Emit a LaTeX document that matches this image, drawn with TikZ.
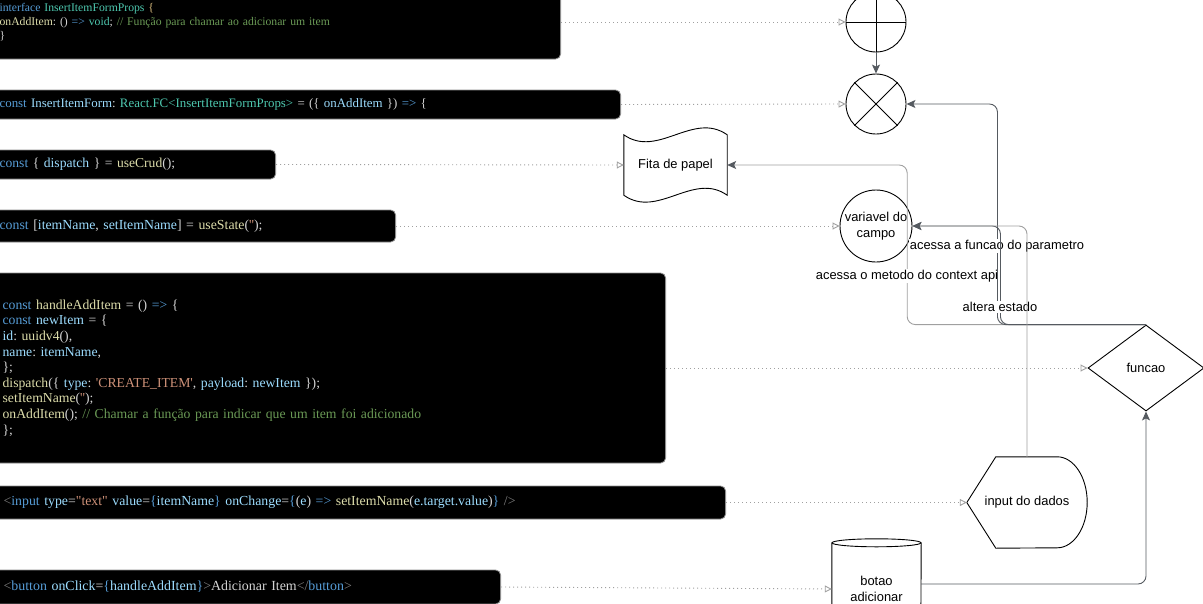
\documentclass[tikz,border=0pt]{standalone}
\usepackage{fontspec}
\setmainfont{Liberation Sans}
\newfontfamily\codefont{Liberation Serif}
\usetikzlibrary{arrows.meta,shapes.geometric,positioning}
\frenchspacing

\definecolor{kwblue}{HTML}{569CD6}
\definecolor{tyteal}{HTML}{4EC9B0}
\definecolor{fnyellow}{HTML}{DCDCAA}
\definecolor{varblue}{HTML}{9CDCFE}
\definecolor{strorange}{HTML}{CE9178}
\definecolor{comgreen}{HTML}{6A9955}
\definecolor{taggray}{HTML}{808080}
\definecolor{bracegold}{HTML}{D7BA7D}
\definecolor{codetxt}{HTML}{D4D4D4}
\definecolor{boxedge}{HTML}{8C8C8C}
\definecolor{flowdark}{HTML}{555A60}
\definecolor{flowlight}{HTML}{A0A0A0}
\definecolor{dotgray}{HTML}{A0A0A0}

% code colouring
\newcommand{\ckw}[1]{\textcolor{kwblue}{#1}}
\newcommand{\cty}[1]{\textcolor{tyteal}{#1}}
\newcommand{\cfn}[1]{\textcolor{fnyellow}{#1}}
\newcommand{\cvar}[1]{\textcolor{varblue}{#1}}
\newcommand{\cstr}[1]{\textcolor{strorange}{#1}}
\newcommand{\ccom}[1]{\textcolor{comgreen}{#1}}
\newcommand{\ctag}[1]{\textcolor{taggray}{#1}}
\newcommand{\cbr}[1]{\textcolor{bracegold}{#1}}
\newcommand{\codesize}[1]{\codefont\fontsize{#1}{15.6}\selectfont}

\tikzset{
        % Code snippets
        codebox/.style={rectangle, rounded corners=5pt, fill=black, draw=boxedge, line width=0.8pt,
                inner xsep=15pt, inner ysep=0pt, align=left, text=codetxt,
                font=\codesize{13.6}},
        % Diagram shapes
        shapetext/.style={font=\fontsize{12.9}{15.5}\selectfont, inner sep=0pt, align=center},
        junction/.style={circle, draw, line width=0.9pt, minimum size=60pt, inner sep=0pt},
        plainshape/.style={shapetext, rectangle},
        % Connectors
        dotarrow/.style={draw=dotgray, line width=0.9pt, dash pattern=on 1pt off 3pt,
                -{Triangle[open, length=7pt, width=7pt]}},
        flowedge/.style={draw=flowdark, line width=0.9pt, rounded corners=8pt,
                -{Stealth[length=9pt, width=8pt, inset=2pt, color=flowdark]}},
        edgelabel/.style={font=\fontsize{12.9}{15}\selectfont, fill=white, inner sep=1pt}
}

\begin{document}
\begin{tikzpicture}[x=1pt, y=-1pt]
    \useasboundingbox (0,0) rectangle (1203,603);

    % code on the left
    \node[codebox, anchor=east, minimum width=576pt, minimum height=74pt, text width=546pt,
          font=\codefont\fontsize{11.7}{14}\selectfont] (props) at (561,22)
        {\ckw{interface} \cty{InsertItemFormProps} \cbr{\{}\\
         \cfn{onAddItem}: () \ckw{=>} \cty{void}; \ccom{// Função para chamar ao adicionar um item}\\
         \}};
    \node[codebox, anchor=east, minimum width=636pt, minimum height=29pt, text width=606pt,
          font=\codesize{12.9}] (formDecl) at (621,104.5)
        {\ckw{const} \cvar{InsertItemForm}: \cty{React.FC<InsertItemFormProps>} = (\{ \cvar{onAddItem} \}) \ckw{=>} \{};
    \node[codebox, anchor=east, minimum width=291pt, minimum height=29pt, text width=261pt] (dispatchDecl) at (276,164.5)
        {\ckw{const} \{ \cvar{dispatch} \} = \cfn{useCrud}();};
    \node[codebox, anchor=east, minimum width=411pt, minimum height=32pt, text width=381pt,
          font=\codesize{13.8}] (stateDecl) at (396,226)
        {\ckw{const} [\cvar{itemName}, \cvar{setItemName}] = \cfn{useState}(\cstr{''});};
    \node[codebox, anchor=east, inner xsep=18pt, minimum width=681pt, minimum height=190pt, text width=645pt,
          font=\codesize{13.7}] (handler) at (666,368)
        {\ckw{const} \cfn{handleAddItem} = () \ckw{=>} \{\\
         \ckw{const} \cvar{newItem} = \{\\
         \cvar{id}: \cfn{uuidv4}(),\\
         \cvar{name}: \cvar{itemName},\\
         \};\\
         \cfn{dispatch}(\{ \cvar{type}: \cstr{'CREATE\_ITEM'}, \cvar{payload}: \cvar{newItem} \});\\
         \cfn{setItemName}(\cstr{''});\\
         \cfn{onAddItem}(); \ccom{// Chamar a função para indicar que um item foi adicionado}\\
         \};};
    \node[codebox, anchor=east, inner xsep=19pt, minimum width=741pt, minimum height=33pt, text width=703pt,
          font=\codesize{13.8}] (inputJsx) at (726,502.5)
        {\ctag{<}\ckw{input} \cvar{type}=\cstr{"text"} \cvar{value}=\ckw{\{}\cvar{itemName}\ckw{\}} \cvar{onChange}=\ckw{\{}(\cvar{e}) \ckw{=>} \cfn{setItemName}(\cvar{e.target.value})\ckw{\}} \ctag{/>}};
    \node[codebox, anchor=east, inner xsep=19pt, minimum width=516pt, minimum height=34pt, text width=478pt,
          font=\codesize{13.9}] (buttonJsx) at (501,587)
        {\ctag{<}\ckw{button} \cvar{onClick}=\ckw{\{}\cvar{handleAddItem}\ckw{\}}\ctag{>}Adicionar Item\ctag{</}\ckw{button}\ctag{>}};

    % shapes on the right
    \node[junction] (plus) at (876,22) {};
    \draw[line width=0.9pt] (plus.north) -- (plus.south) (plus.west) -- (plus.east);
    \node[junction] (times) at (876,104) {};
    \draw[line width=0.9pt] (times.north west) -- (times.south east) (times.north east) -- (times.south west);

    \node[plainshape, minimum width=103pt, minimum height=60pt] (fita) at (675.5,165) {Fita de papel};
    \draw[line width=0.9pt] (fita.north west) .. controls +(34pt,-24pt) and +(-34pt,24pt) .. (fita.north east)
        -- (fita.south east) .. controls +(-34pt,24pt) and +(34pt,-24pt) .. (fita.south west) -- cycle;

    \node[shapetext, circle, draw, line width=0.9pt, minimum size=72pt] (campo) at (876,226) {variavel do\\campo};

    \node[shapetext, diamond, draw, line width=0.9pt, minimum width=116pt, minimum height=86pt] (funcao) at (1146,368) {funcao};

    \node[plainshape, minimum width=120pt, minimum height=91pt] (dados) at (1027,502.5) {input do dados};
    \draw[line width=0.9pt] (dados.west) -- ([xshift=29pt]dados.north west) -- ([xshift=-30pt]dados.north east)
        arc[start angle=90, end angle=-90, x radius=30pt, y radius=45.5pt]
        -- ([xshift=29pt]dados.south west) -- cycle;

    \node[plainshape, minimum width=89pt, minimum height=100pt] (botao) at (876.5,589) {botao\\adicionar};
    \draw[line width=0.9pt] ([yshift=-4pt]botao.north west) -- ([yshift=4pt]botao.south west)
        arc[start angle=180, end angle=360, x radius=44.5pt, y radius=4pt] -- ([yshift=-4pt]botao.north east);
    \draw[line width=0.9pt] ([yshift=-4pt]botao.north) ellipse[x radius=44.5pt, y radius=4pt];

    % code -> shape
    \draw[dotarrow] (props.east) -- (plus.west);
    \draw[dotarrow] (formDecl.east) -- (times.west);
    \draw[dotarrow] (dispatchDecl.east) -- (fita.west);
    \draw[dotarrow] (stateDecl.east) -- (campo.west);
    \draw[dotarrow] (handler.east) -- (funcao.west);
    \draw[dotarrow] (inputJsx.east) -- (dados.west);
    \draw[dotarrow] (buttonJsx.east) -- (botao.west);

    % flow between shapes
    \draw[flowedge] (plus.south) -- (times.north);
    \draw[flowedge, draw=flowlight] (funcao.north) -| ([xshift=180pt]fita.east) -- (fita.east);
    \node[edgelabel] (lblContext) at (907,276) {acessa o metodo do context api};
    \draw[flowedge] (funcao.north) -| ([xshift=91pt]times.east) -- (times.east);
    \node[edgelabel] (lblParam) at (997,246) {acessa a funcao do parametro};
    \draw[flowedge] (funcao.north) -| ([xshift=88pt]campo.east) -- (campo.east);
    \node[edgelabel] (lblEstado) at (1000,307) {altera estado};
    \draw[flowedge, draw=flowlight] (dados.north) |- (campo.east);
    \draw[flowedge] ([yshift=5pt]botao.east) -| (funcao.south);
\end{tikzpicture}
\end{document}
